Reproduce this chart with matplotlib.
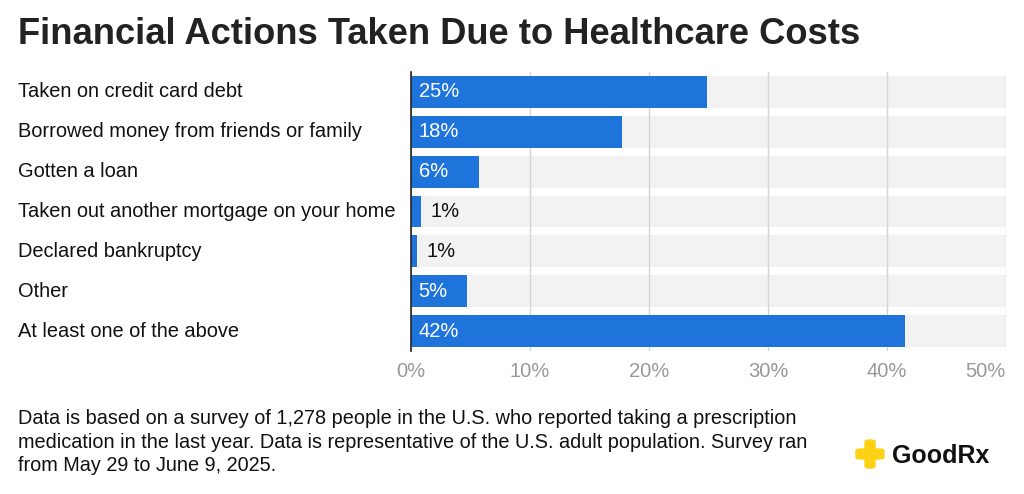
import matplotlib
matplotlib.use('Agg')
import matplotlib.pyplot as plt
from matplotlib.patches import FancyBboxPatch
from matplotlib.transforms import blended_transform_factory

plt.rcParams['font.family'] = ['Liberation Sans', 'DejaVu Sans']

# chart data
categories = ['Taken on credit card debt',
              'Borrowed money from friends or family',
              'Gotten a loan',
              'Taken out another mortgage on your home',
              'Declared bankruptcy',
              'Other',
              'At least one of the above']
values = [24.9, 17.7, 5.7, 0.8, 0.5, 4.7, 41.5]
value_labels = ['25%', '18%', '6%', '1%', '1%', '5%', '42%']
ticks = [0, 10, 20, 30, 40, 50]
tick_labels = ['0%', '10%', '20%', '30%', '40%', '50%']

blue = '#1f74dc'

fig = plt.figure(figsize=(10.24, 4.94), dpi=100)
ax = fig.add_axes([411 / 1024, 1 - 351 / 494, 595 / 1024, 279 / 494])

y = list(range(len(categories)))
# gray track behind every bar
ax.barh(y, [ticks[-1]] * len(y), height=0.8, color='#f2f2f2', zorder=0.3)
ax.barh(y, values, height=0.8, color=blue, zorder=2)

ax.set_xlim(0, 50)
ax.set_ylim(len(y) - 0.5, -0.5)
ax.set_xticks(ticks)
ax.set_xticklabels(tick_labels)
ax.tick_params(axis='x', length=0, pad=8, labelsize=14.5, labelcolor='#999999')
# last label sits inside the chart edge
ax.get_xticklabels()[-1].set_ha('right')
ax.set_yticks([])
ax.set_axisbelow(True)
ax.grid(axis='x', color='#d4d4d4', linewidth=1)
for s in ['top', 'right', 'bottom']:
    ax.spines[s].set_visible(False)
ax.spines['left'].set_color('#222222')
ax.spines['left'].set_linewidth(1.2)
ax.spines['left'].set_zorder(3)

# value labels: inside the bar if it fits, else after it
for i, (v, lab) in enumerate(zip(values, value_labels)):
    if v > 3:
        ax.annotate(lab, (0, i), xytext=(5.5, 0), textcoords='offset points',
                    ha='left', va='center', fontsize=14.5, color='white', zorder=4)
    else:
        ax.annotate(lab, (v, i), xytext=(7, 0), textcoords='offset points',
                    ha='left', va='center', fontsize=14.5, color='#111111', zorder=4)

# category names at left edge of the figure
trans = blended_transform_factory(fig.transFigure, ax.transData)
for i, c in enumerate(categories):
    ax.text(18 / 1024, i, c, transform=trans, ha='left', va='center',
            fontsize=14.4, color='#111111')

fig.text(18 / 1024, 1 - 35 / 494, 'Financial Actions Taken Due to Healthcare Costs',
         fontsize=26.2, fontweight='bold', color='#222222', va='center', ha='left')

fig.text(18 / 1024, 1 - 442 / 494,
         'Data is based on a survey of 1,278 people in the U.S. who reported taking a prescription\n'
         'medication in the last year. Data is representative of the U.S. adult population. Survey ran\n'
         'from May 29 to June 9, 2025.',
         fontsize=14.3, color='#111111', va='center', ha='left', linespacing=1.3)

# GoodRx logo
yellow = '#fcd116'
fig.patches.append(FancyBboxPatch((856 / 1024, 1 - 459 / 494), 28 / 1024, 10 / 494,
                                  boxstyle='round,pad=0,rounding_size=0.004',
                                  transform=fig.transFigure, color=yellow))
fig.patches.append(FancyBboxPatch((865 / 1024, 1 - 468 / 494), 10 / 1024, 28 / 494,
                                  boxstyle='round,pad=0,rounding_size=0.004',
                                  transform=fig.transFigure, color=yellow))
fig.text(892 / 1024, 1 - 456 / 494, 'GoodRx', fontsize=18, fontweight='bold',
         color='#111111', va='center', ha='left')

fig.savefig('out.png', dpi=100)
